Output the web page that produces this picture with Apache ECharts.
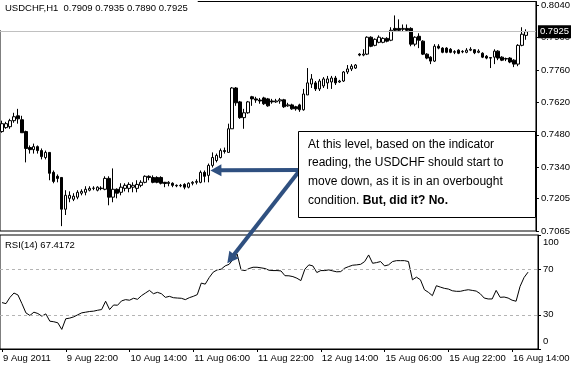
<!DOCTYPE html>
<html><head><meta charset="utf-8">
<script src="https://cdn.jsdelivr.net/npm/echarts@6/dist/echarts.min.js"></script>
<style>html,body{margin:0;padding:0;background:#fff}#c{width:573px;height:365px}</style>
</head><body><div id="c"></div>
<script>
const symbolName = 'USDCHF', period = 'H1';
const opens = [
.7494,.7511,.7515,.7541,.7562,.7545,.7494,.7425,.7416,.7429,
.7412,.7382,.7404,.7318,.7301,.7296,.7159,.7206,.7202,.7211,
.7228,.7232,.7241,.7249,.7241,.7250,.7245,.7292,.7211,.7245,
.7232,.7249,.7249,.7254,.7249,.7262,.7275,.7301,.7296,.7296,
.7296,.7275,.7270,.7271,.7262,.7260,.7266,.7254,.7271,.7275,
.7275,.7318,.7305,.7348,.7369,.7382,.7412,.7404,.7506,.7682,
.7622,.7554,.7575,.7644,.7635,.7630,.7639,.7635,.7626,.7622,
.7626,.7631,.7605,.7609,.7601,.7609,.7588,.7652,.7699,.7704,
.7678,.7691,.7704,.7708,.7725,.7708,.7712,.7751,.7764,.7768,
.7828,.7824,.7828,.7901,.7866,.7879,.7879,.7896,.7888,.7939,
.7939,.7935,.7939,.7939,.7871,.7905,.7884,.7828,.7815,.7798,
.7862,.7854,.7854,.7849,.7836,.7845,.7838,.7836,.7845,.7847,
.7836,.7832,.7819,.7813,.7815,.7841,.7815,.7807,.7811,.7802,
.7785,.7866,.7909];
const closes = [
.7528,.7528,.7541,.7558,.7549,.7489,.7421,.7416,.7429,.7412,
.7386,.7404,.7314,.7279,.7292,.7159,.7219,.7219,.7215,.7232,
.7236,.7245,.7249,.7250,.7254,.7248,.7292,.7211,.7245,.7228,
.7254,.7262,.7266,.7262,.7266,.7275,.7301,.7296,.7275,.7275,
.7271,.7270,.7275,.7262,.7260,.7262,.7254,.7271,.7275,.7279,
.7318,.7301,.7348,.7382,.7391,.7412,.7408,.7506,.7682,.7618,
.7554,.7575,.7622,.7635,.7630,.7626,.7614,.7605,.7622,.7626,
.7631,.7601,.7609,.7592,.7592,.7588,.7656,.7704,.7721,.7678,
.7712,.7721,.7721,.7725,.7704,.7712,.7751,.7764,.7776,.7781,
.7824,.7828,.7901,.7862,.7892,.7901,.7896,.7884,.7931,.7931,
.7931,.7939,.7931,.7871,.7901,.7888,.7828,.7811,.7798,.7862,
.7854,.7836,.7836,.7836,.7839,.7832,.7840,.7845,.7849,.7834,
.7841,.7815,.7811,.7811,.7841,.7811,.7802,.7809,.7794,.7785,
.7866,.7914,.7925];
const lows = [
.7489,.7506,.7506,.7532,.7528,.7489,.7361,.7399,.7399,.7399,
.7374,.7374,.7284,.7271,.7275,.7086,.7134,.7189,.7194,.7202,
.7219,.7219,.7236,.7241,.7236,.7241,.7241,.7176,.7189,.7206,
.7219,.7236,.7232,.7232,.7232,.7254,.7271,.7284,.7271,.7271,
.7266,.7254,.7258,.7254,.7254,.7254,.7245,.7249,.7262,.7266,
.7271,.7275,.7275,.7339,.7361,.7378,.7399,.7404,.7506,.7605,
.7549,.7506,.7571,.7605,.7618,.7614,.7609,.7601,.7614,.7618,
.7614,.7596,.7601,.7588,.7584,.7579,.7584,.7652,.7682,.7669,
.7669,.7682,.7678,.7678,.7695,.7704,.7708,.7742,.7755,.7764,
.7819,.7819,.7824,.7858,.7862,.7875,.7875,.7879,.7884,.7926,
.7926,.7926,.7926,.7862,.7862,.7854,.7824,.7806,.7785,.7794,
.7849,.7832,.7832,.7832,.7828,.7828,.7832,.7832,.7841,.7828,
.7832,.7811,.7806,.7768,.7785,.7802,.7798,.7798,.7789,.7772,
.7776,.7862,.7890];
const highs = [
.7541,.7536,.7549,.7575,.7592,.7562,.7498,.7434,.7442,.7434,
.7421,.7412,.7404,.7326,.7309,.7296,.7241,.7236,.7228,.7241,
.7245,.7258,.7258,.7258,.7258,.7258,.7301,.7301,.7335,.7249,
.7271,.7271,.7275,.7275,.7284,.7284,.7305,.7305,.7305,.7301,
.7301,.7277,.7280,.7275,.7266,.7268,.7271,.7275,.7280,.7288,
.7326,.7326,.7356,.7404,.7399,.7421,.7425,.7528,.7686,.7686,
.7626,.7592,.7626,.7648,.7644,.7639,.7644,.7639,.7635,.7635,
.7639,.7635,.7618,.7614,.7605,.7614,.7678,.7768,.7742,.7712,
.7721,.7729,.7734,.7734,.7734,.7717,.7755,.7781,.7785,.7785,
.7832,.7849,.7905,.7905,.7896,.7909,.7901,.7901,.7944,.7995,
.7978,.7956,.7956,.7944,.7905,.7918,.7888,.7832,.7819,.7871,
.7871,.7858,.7858,.7854,.7845,.7849,.7845,.7854,.7858,.7849,
.7849,.7836,.7824,.7815,.7849,.7845,.7819,.7813,.7815,.7806,
.7871,.7944,.7935];
const rsi = [
40.7,39.8,45.3,49.1,47.4,39.8,31.7,29.4,32.3,31.1,
28.8,30.8,24.4,23.9,23.0,17.2,26.5,27.1,28.2,30.0,
31.7,32.3,32.9,33.2,34.0,34.6,41.9,34.6,38.6,38.4,
42.2,43.3,42.8,44.5,43.6,46.8,49.1,51.4,48.5,49.7,
48.5,45.3,46.2,45.0,44.7,44.5,43.3,45.0,46.2,47.7,
57.8,56.9,62.7,67.4,69.4,70.0,72.9,74.3,78.7,83.3,
69.4,68.8,70.6,71.7,71.7,71.2,70.6,69.1,68.8,68.8,
68.5,64.3,64.2,63.5,62.1,60.0,70.0,73.8,72.9,67.1,
68.8,68.8,69.4,68.5,67.7,67.9,70.9,72.3,73.5,73.8,
74.3,76.7,82.5,75.2,75.8,76.7,72.9,73.8,76.7,77.5,
77.5,77.5,76.7,60.7,63.0,60.7,52.0,49.7,46.8,55.5,
54.3,53.2,52.6,51.1,50.6,50.6,51.4,52.0,51.4,50.8,
48.5,44.7,43.9,43.9,51.4,45.3,45.6,44.7,42.8,41.9,
54.9,62.7,67.4172];
const priceTicks = [0.7065,0.7205,0.7340,0.7480,0.7620,0.7760,0.7900,0.8040];
const rsiTicks = [0,30,70,100];
const rsiLevels = [30,70];
const rsiPeriod = 14;
const noteLines = ['At this level, based on the indicator','reading, the USDCHF should start to','move down, as it is in an overbought','condition. '];
const noteBold = 'But, did it? No.';
const arrowBar = 52, rsiArrowBar = 56;

// hourly categories (weekends skipped), plus 2 empty slots for chart shift
const monthNames = ['Jan','Feb','Mar','Apr','May','Jun','Jul','Aug','Sep','Oct','Nov','Dec'];
const cats = [];
let t = Date.UTC(2011,7,9,6);
while (cats.length < opens.length + 2) {
  const d = new Date(t);
  const wd = d.getUTCDay();
  if (wd !== 0 && wd !== 6) {
    const hh = String(d.getUTCHours()).padStart(2,'0');
    cats.push(cats.length === 0 ? `${d.getUTCDate()} ${monthNames[d.getUTCMonth()]} ${d.getUTCFullYear()}`
      : `${d.getUTCDate()} ${monthNames[d.getUTCMonth()]} ${hh}:00`);
  }
  t += 3600000;
}
const ohlc = opens.map((o,i)=>[o, closes[i], lows[i], highs[i]]);
const last = opens.length - 1;
const FONT = 'Liberation Sans';
const f4 = v => Number(v).toFixed(4);

const chart = echarts.init(document.getElementById('c'), null, {renderer:'canvas'});
const option = {
  animation:false,
  backgroundColor:'#fff',
  textStyle:{fontFamily:FONT},
  title:[
    {text:`${symbolName},${period}  ${f4(opens[last])} ${f4(highs[last])} ${f4(lows[last])} ${f4(closes[last])}`,
     left:0, top:0, padding:[3,10,17,5], backgroundColor:'#fff', z:5,
     textStyle:{fontSize:9.5, fontWeight:'normal', color:'#000', fontFamily:FONT}},
    {text:`RSI(${rsiPeriod}) ${rsi[last].toFixed(4)}`, left:1, top:237, padding:[3,4],
     textStyle:{fontSize:9.5, fontWeight:'normal', color:'#000', fontFamily:FONT}}
  ],
  grid:[
    {left:0, top:0, width:538, height:231, show:true, borderColor:'#000', borderWidth:1},
    {left:0, top:235, width:538, height:114, show:true, borderColor:'#000', borderWidth:1}
  ],
  xAxis:[
    {type:'category', gridIndex:0, data:cats, boundaryGap:true,
     axisLine:{show:false}, axisTick:{show:false}, axisLabel:{show:false}, splitLine:{show:false}},
    {type:'category', gridIndex:1, data:cats, boundaryGap:true,
     axisLine:{show:true, lineStyle:{color:'#000'}},
     axisTick:{show:true, interval:15, alignWithLabel:true, length:3, lineStyle:{color:'#000'}},
     axisLabel:{interval:15, align:'left', margin:4, fontSize:9.5, color:'#000', fontFamily:FONT, padding:[0,0,0,1]},
     splitLine:{show:false}}
  ],
  yAxis:[
    {type:'value', gridIndex:0, position:'right', min:0.7065, max:0.8055, scale:true,
     axisLine:{show:true, lineStyle:{color:'#000'}},
     axisTick:{show:true, customValues:priceTicks, length:3, lineStyle:{color:'#000'}},
     axisLabel:{customValues:priceTicks, formatter:v=>v.toFixed(4), margin:5, fontSize:9.5, color:'#000', fontFamily:FONT},
     splitLine:{show:false}},
    {type:'value', gridIndex:1, position:'right', min:0, max:100,
     axisLine:{show:true, lineStyle:{color:'#000'}},
     axisTick:{show:true, customValues:rsiTicks, length:3, lineStyle:{color:'#000'}},
     axisLabel:{customValues:rsiTicks, margin:5, fontSize:9.5, color:'#000', fontFamily:FONT,
       formatter:v=> v===100 ? '{t|100}' : (v===0 ? '{b|0}' : String(v)),
       rich:{t:{padding:[14,0,0,0], fontSize:9.5, color:'#000', fontFamily:FONT},
             b:{padding:[0,0,16,0], fontSize:9.5, color:'#000', fontFamily:FONT}}},
     splitLine:{show:false}}
  ],
  series:[
    {type:'candlestick', xAxisIndex:0, yAxisIndex:0, data:ohlc, barWidth:3,
     itemStyle:{color:'#fff', color0:'#000', borderColor:'#000', borderColor0:'#000', borderWidth:1},
     markLine:{silent:true, symbol:['none','none'], animation:false, precision:4,
       lineStyle:{color:'#c0c0c0', type:'solid', width:1},
       label:{position:'end', distance:2, formatter:p=>f4(p.value), backgroundColor:'#000', color:'#fff',
              padding:[2,2,1,2], fontSize:9.5, fontFamily:FONT},
       emphasis:{disabled:true},
       data:[{yAxis:closes[last]}]}},
    {type:'line', xAxisIndex:1, yAxisIndex:1, data:rsi, symbol:'none', showSymbol:false,
     lineStyle:{color:'#000', width:1},
     markLine:{silent:true, symbol:['none','none'], animation:false, label:{show:false},
       lineStyle:{color:'#b4b4b4', type:[3,3], width:1}, emphasis:{disabled:true},
       data:rsiLevels.map(v=>({yAxis:v}))}}
  ]
};
chart.setOption(option);

// annotation box + arrows anchored to data points
const boxLeft = 298, boxTop = 131, boxW = 237, boxH = 86;
const start = [boxLeft + 2, boxTop + 39];
const ARROW = '#2f5080';
function arrow(target, gap) {
  const dx = start[0]-target[0], dy = start[1]-target[1];
  const len = Math.hypot(dx,dy), ux = dx/len, uy = dy/len;
  const tip = [target[0]+ux*gap, target[1]+uy*gap];
  const L = 11, hw = 6;
  const base = [tip[0]+ux*L, tip[1]+uy*L];
  const px = -uy, py = ux;
  return [
    {type:'line', z:90, shape:{x1:start[0], y1:start[1], x2:base[0]-ux*1, y2:base[1]-uy*1},
     style:{stroke:ARROW, lineWidth:4}},
    {type:'polygon', z:90, shape:{points:[tip, [base[0]+px*hw, base[1]+py*hw], [base[0]-px*hw, base[1]-py*hw]]},
     style:{fill:ARROW}}
  ];
}
const t1 = chart.convertToPixel({gridIndex:0}, [arrowBar, (opens[arrowBar]+closes[arrowBar])/2]);
const t2 = chart.convertToPixel({gridIndex:1}, [rsiArrowBar, rsi[rsiArrowBar]]);
const noteText = noteLines.slice(0,3).join('\n') + '\n' + noteLines[3] + '{b|' + noteBold + '}';
chart.setOption({graphic:[
  ...arrow(t1, 2),
  ...arrow(t2, 3.5),
  {type:'rect', z:100, shape:{x:boxLeft+0.5, y:boxTop+0.5, width:boxW, height:boxH},
   style:{fill:'#fff', stroke:'#000', lineWidth:1}},
  {type:'text', z:101, x:boxLeft+10, y:boxTop+4,
   style:{text:noteText, fill:'#000', fontSize:12, fontFamily:FONT, lineHeight:18.7,
     rich:{b:{fontWeight:'bold', fontSize:12, fontFamily:FONT, fill:'#000', lineHeight:18.7}}}}
]});
</script></body></html>
